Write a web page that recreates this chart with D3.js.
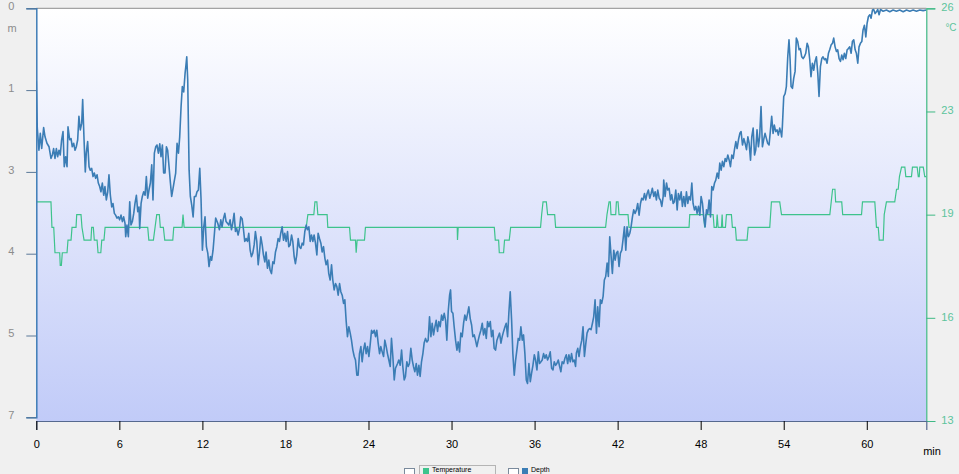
<!DOCTYPE html>
<html><head><meta charset="utf-8">
<script src="https://cdn.jsdelivr.net/npm/d3@7"></script>
<style>html,body{margin:0;padding:0;background:#f0f0f0;overflow:hidden}svg{display:block}</style>
</head><body><svg id="c" width="959" height="474"></svg>
<script>
// ---- data ----
const xTicks = [0, 6, 12, 18, 24, 30, 36, 42, 48, 54, 60];
const xDomain = [0, 64.3];
const depthTicks = [0, 1.4, 2.8, 4.2, 5.6, 7];
const depthTickLabels = ["0", "1", "3", "4", "5", "7"];
const tempTicks = [13, 16.25, 19.5, 22.75, 26];
const tempTickLabels = ["13", "16", "19", "23", "26"];
const legendLabels = ["Temperature", "Depth"];
// depth samples: [minutes, metres]
const depthSamples = [[0,1.25],[0.07,2.05],[0.19,2.43],[0.29,2.14],[0.39,2.40],[0.53,2.04],[0.63,2.20],[0.77,2.31],[0.92,2.37],[1.06,2.57],[1.16,2.51],[1.25,2.40],[1.35,2.57],[1.45,2.40],[1.54,2.54],[1.64,2.43],[1.73,2.51],[1.83,2.25],[1.93,2.11],[2.02,2.71],[2.12,2.54],[2.22,2.71],[2.29,2.03],[2.41,2.25],[2.51,2.23],[2.60,2.37],[2.70,2.31],[2.80,2.43],[2.89,2.37],[2.99,2.25],[3.08,1.85],[3.18,2.08],[3.28,1.97],[3.35,1.56],[3.45,2.25],[3.54,2.80],[3.61,2.48],[3.71,2.28],[3.81,2.71],[3.90,2.77],[4.00,2.74],[4.10,2.88],[4.19,2.82],[4.29,2.91],[4.39,2.85],[4.48,2.99],[4.58,3.05],[4.67,3.14],[4.77,2.99],[4.87,3.20],[4.96,3.05],[5.06,3.28],[5.16,3.14],[5.25,2.85],[5.35,3.20],[5.45,3.40],[5.54,3.34],[5.64,3.51],[5.73,3.54],[5.83,3.59],[5.93,3.57],[6.02,3.62],[6.12,3.54],[6.22,3.65],[6.31,3.57],[6.41,3.68],[6.46,3.91],[6.55,3.71],[6.65,3.91],[6.75,3.31],[6.84,3.71],[6.94,3.65],[7.04,3.51],[7.13,3.34],[7.23,3.20],[7.33,3.48],[7.42,3.40],[7.47,3.77],[7.57,3.34],[7.66,3.22],[7.76,3.14],[7.86,3.20],[7.95,2.88],[8.05,3.25],[8.14,3.11],[8.24,2.99],[8.34,2.68],[8.43,3.28],[8.53,2.48],[8.63,2.37],[8.72,2.34],[8.82,2.48],[8.92,2.32],[9.01,2.54],[9.11,2.34],[9.20,2.82],[9.30,2.82],[9.40,2.37],[9.49,2.43],[9.59,2.71],[9.69,2.99],[9.78,3.22],[9.88,3.08],[9.98,2.94],[10.07,2.82],[10.17,2.31],[10.27,2.48],[10.36,2.20],[10.46,1.68],[10.55,1.34],[10.65,1.43],[10.75,1.11],[10.80,1.00],[10.87,0.83],[10.94,1.23],[11.04,2.77],[11.13,3.22],[11.23,3.37],[11.33,3.57],[11.42,3.22],[11.52,3.22],[11.61,3.14],[11.71,3.11],[11.81,2.74],[11.90,3.25],[12.00,4.14],[12.10,3.74],[12.19,3.57],[12.29,4.08],[12.39,4.19],[12.48,4.42],[12.58,4.25],[12.67,4.31],[12.77,4.14],[12.87,3.85],[12.96,3.59],
[13.11,3.68],[13.23,3.79],[13.33,3.62],[13.42,3.74],[13.52,3.60],[13.62,3.51],[13.71,3.65],[13.81,3.68],[13.91,3.71],[14.00,3.62],[14.10,3.79],[14.19,3.68],[14.29,3.51],[14.39,3.82],[14.48,3.77],[14.58,3.88],[14.68,3.77],[14.77,3.57],[14.87,3.60],[14.97,3.79],[15.06,3.99],[15.16,3.94],[15.26,3.99],[15.35,3.85],[15.45,4.14],[15.54,4.25],[15.64,4.19],[15.74,4.05],[15.83,3.82],[15.93,3.99],[16.03,4.39],[16.12,4.19],[16.22,3.91],[16.32,4.05],[16.41,4.22],[16.51,4.34],[16.60,4.17],[16.70,4.45],[16.80,4.31],[16.89,4.48],[16.99,4.54],[17.09,4.34],[17.18,4.37],[17.28,4.17],[17.38,4.08],[17.47,3.94],[17.57,3.99],[17.66,3.85],[17.76,3.74],[17.86,3.97],[17.95,3.85],[18.05,3.99],[18.15,3.82],[18.24,4.08],[18.34,4.05],[18.44,3.88],[18.53,3.99],[18.63,4.25],[18.72,4.37],[18.82,4.22],[18.92,3.94],[19.01,4.08],[19.11,4.11],[19.21,4.02],[19.30,4.05],[19.40,3.82],[19.50,3.71],[19.59,3.79],[19.69,3.74],[19.79,3.99],[19.88,3.88],[19.98,3.99],[20.07,3.88],[20.17,4.02],[20.27,4.22],[20.36,3.85],[20.46,3.94],[20.56,4.02],[20.65,4.17],[20.75,4.08],[20.85,4.28],[20.94,4.39],[21.04,4.31],[21.13,4.54],[21.23,4.65],[21.33,4.39],[21.42,4.65],[21.52,4.82],[21.62,4.71],[21.71,4.76],[21.81,4.91],[21.91,4.71],[22.00,4.85],[22.10,4.91],[22.20,5.05],[22.29,4.99],[22.39,5.36],[22.48,5.62],[22.58,5.45],[22.68,5.56],[22.77,5.68],[22.87,5.85],[22.97,5.96],[23.06,6.02],[23.16,6.28],[23.25,6.28],[23.35,5.91],[23.45,5.79],[23.54,6.05],[23.64,5.85],[23.74,5.73],[23.83,5.91],[23.93,5.79],[24.03,5.96],[24.12,5.76],[24.22,5.51],[24.31,5.56],[24.41,5.51],[24.51,5.62],[24.60,5.51],[24.70,5.73],[24.80,5.91],[24.89,5.79],[24.99,5.88],[25.09,5.96],[25.18,5.68],[25.28,5.79],[25.37,5.91],[25.47,6.02],[25.57,6.13],[25.66,5.65],[25.76,5.96],[25.86,6.36],[25.95,6.16],
[26.10,6.08],[26.19,6.02],[26.29,6.11],[26.39,5.85],[26.48,6.13],[26.58,6.36],[26.67,6.30],[26.77,6.05],[26.87,6.13],[26.96,6.08],[27.06,5.82],[27.16,6.02],[27.25,6.13],[27.35,6.22],[27.45,6.08],[27.54,6.28],[27.64,6.11],[27.73,6.30],[27.83,6.05],[27.93,5.91],[28.02,5.73],[28.12,5.65],[28.22,5.71],[28.31,5.68],[28.41,5.28],[28.51,5.62],[28.60,5.39],[28.70,5.59],[28.80,5.45],[28.89,5.34],[28.99,5.53],[29.08,5.36],[29.18,5.45],[29.28,5.25],[29.37,5.34],[29.47,5.22],[29.57,5.34],[29.66,5.68],[29.76,5.19],[29.86,4.91],[29.93,4.82],[30.00,5.19],[30.10,5.22],[30.19,5.45],[30.29,5.68],[30.39,5.85],[30.48,5.71],[30.58,5.88],[30.67,5.56],[30.77,5.62],[30.87,5.39],[30.96,5.25],[31.06,5.34],[31.16,5.22],[31.25,5.11],[31.35,5.31],[31.45,5.42],[31.54,5.62],[31.64,5.59],[31.73,5.68],[31.83,5.79],[31.93,5.68],[32.02,5.59],[32.12,5.51],[32.22,5.39],[32.31,5.59],[32.41,5.48],[32.51,5.65],[32.60,5.36],[32.70,5.45],[32.80,5.36],[32.89,5.62],[32.99,5.51],[33.08,5.82],[33.18,5.85],[33.28,5.68],[33.37,5.62],[33.47,5.56],[33.57,5.73],[33.66,5.62],[33.76,5.53],[33.86,5.45],[33.95,5.39],[34.05,5.62],[34.14,5.22],[34.24,4.85],[34.34,5.34],[34.43,5.91],[34.53,6.28],[34.63,6.02],[34.72,5.85],[34.82,5.65],[34.92,5.68],[35.01,5.45],[35.11,5.68],[35.20,5.59],[35.30,5.91],[35.40,6.36],[35.49,6.42],[35.59,6.08],[35.69,6.39],[35.78,6.25],[35.88,6.11],[35.98,5.93],[36.07,6.02],[36.17,6.19],[36.27,5.88],[36.36,6.08],[36.46,6.05],[36.55,6.02],[36.65,5.91],[36.75,5.99],[36.84,5.93],[36.94,6.02],[37.04,5.96],[37.13,5.88],[37.23,6.16],[37.33,6.19],[37.42,6.05],[37.52,6.11],[37.61,6.08],[37.71,6.02],[37.81,6.13],[37.90,6.22],[37.99,6.05],[38.10,6.08],[38.19,5.99],[38.29,5.93],[38.39,6.08],[38.48,5.93],[38.58,6.05],[38.67,5.91],[38.77,6.05],[38.87,6.02],[38.96,6.13],
[39.02,5.90],[39.12,5.82],[39.21,5.96],[39.31,5.79],[39.41,5.68],[39.50,5.45],[39.60,5.96],[39.69,5.76],[39.79,5.56],[39.89,5.50],[39.98,5.48],[40.08,5.50],[40.18,5.39],[40.27,5.28],[40.37,4.99],[40.47,5.56],[40.56,5.11],[40.66,5.45],[40.75,4.99],[40.85,5.05],[40.95,4.93],[41.04,4.65],[41.14,4.59],[41.24,4.36],[41.33,4.59],[41.43,3.91],[41.53,4.25],[41.62,4.54],[41.72,4.14],[41.82,4.31],[41.91,4.19],[42.01,4.16],[42.10,4.42],[42.20,4.19],[42.30,4.14],[42.39,3.96],[42.49,3.74],[42.59,4.14],[42.68,3.74],[42.78,3.91],[42.88,3.85],[42.97,3.74],[43.07,3.57],[43.16,3.45],[43.26,3.51],[43.36,3.45],[43.45,3.34],[43.55,3.54],[43.65,3.34],[43.74,3.25],[43.84,3.28],[43.94,3.17],[44.03,3.28],[44.13,3.17],[44.22,3.11],[44.32,3.25],[44.42,3.17],[44.51,3.08],[44.61,3.22],[44.71,3.14],[44.80,3.28],[44.90,3.11],[45.00,3.25],[45.09,3.28],[45.19,3.39],[45.29,3.22],[45.33,2.94],[45.43,3.22],[45.53,2.99],[45.62,3.11],[45.72,3.08],[45.82,3.28],[45.91,3.19],[46.01,3.34],[46.10,3.31],[46.20,3.11],[46.30,3.45],[46.39,3.17],[46.49,3.28],[46.59,3.14],[46.68,3.39],[46.78,3.22],[46.88,3.39],[46.97,3.14],[47.07,3.34],[47.16,3.22],[47.26,3.28],[47.36,2.99],[47.45,3.34],[47.55,3.45],[47.65,3.39],[47.74,3.51],[47.84,3.39],[47.94,3.54],[48.03,3.22],[48.13,3.34],[48.22,3.57],[48.32,3.74],[48.42,3.45],[48.51,3.51],[48.61,3.28],[48.71,3.57],[48.80,3.05],[48.90,3.11],[49.00,2.99],[49.09,2.94],[49.19,2.82],[49.29,2.91],[49.38,2.65],[49.48,2.77],[49.57,2.62],[49.67,2.71],[49.77,2.57],[49.86,2.62],[49.96,2.51],[50.06,2.60],[50.15,2.71],[50.25,2.51],[50.35,2.57],[50.44,2.42],[50.54,2.28],[50.63,2.40],[50.73,2.25],[50.83,2.14],[50.92,2.11],[51.02,2.34],[51.12,2.23],[51.21,2.31],[51.31,2.42],[51.41,2.20],[51.50,2.31],[51.60,2.60],[51.69,2.20],[51.79,2.05],[51.89,2.51],[51.98,2.42],
[52.07,2.08],[52.17,2.37],[52.26,2.20],[52.36,1.68],[52.46,2.37],[52.55,2.25],[52.65,2.14],[52.75,2.23],[52.84,2.31],[52.94,2.34],[53.03,2.11],[53.13,1.85],[53.23,2.14],[53.32,2.00],[53.42,2.11],[53.52,2.08],[53.61,2.17],[53.71,2.05],[53.81,2.14],[53.85,2.20],[53.90,2.03],[54.00,1.51],[54.10,1.46],[54.19,1.34],[54.29,0.83],[54.38,0.54],[54.46,0.88],[54.53,1.34],[54.63,1.37],[54.72,1.20],[54.82,1.08],[54.91,0.51],[55.01,0.57],[55.11,0.71],[55.20,0.69],[55.30,0.83],[55.40,0.86],[55.49,0.83],[55.59,0.77],[55.69,0.60],[55.78,0.66],[55.88,0.88],[55.97,1.17],[56.07,0.94],[56.17,1.06],[56.26,0.91],[56.36,0.83],[56.46,1.11],[56.55,1.51],[56.65,1.00],[56.75,0.86],[56.84,0.83],[56.94,0.88],[57.03,0.86],[57.13,0.94],[57.23,0.77],[57.32,0.71],[57.42,0.63],[57.52,0.60],[57.61,0.51],[57.71,0.66],[57.81,0.74],[57.90,0.71],[58.00,0.86],[58.10,0.91],[58.19,0.80],[58.29,0.88],[58.38,0.77],[58.48,0.86],[58.58,0.71],[58.67,0.69],[58.77,0.66],[58.87,0.77],[58.96,0.57],[59.06,0.54],[59.16,0.71],[59.25,0.77],[59.35,0.94],[59.44,0.66],[59.54,0.60],[59.64,0.57],[59.73,0.37],[59.83,0.29],[59.93,0.49],[60.02,0.26],[60.12,0.14],[60.22,0.11],[60.31,0.17],[60.41,0.03],[60.50,0.02],[60.60,0.09],[60.70,0.06],[60.79,0.02],[60.89,0.11],[60.99,0.02],[61.18,0.05],[61.42,0.03],[61.66,0.06],[61.90,0.03],[62.14,0.05],[62.38,0.03],[62.63,0.06],[62.87,0.03],[63.11,0.05],[63.35,0.03],[63.59,0.05],[63.83,0.03],[64.07,0.04],[64.31,0.03]];
// temperature samples: [minutes, °C]
const tempSamples = [[0,19.9],[1.06,19.9],[1.13,19.1],[1.26,19.1],[1.35,18.3],[1.69,18.3],[1.73,17.9],[1.81,17.9],[1.88,18.3],[2.22,18.3],[2.29,18.7],[2.51,18.7],[2.58,19.1],[2.87,19.1],[2.92,19.5],[3.23,19.5],[3.30,19.1],[3.45,18.7],[3.95,18.7],[4.00,19.1],[4.12,19.1],[4.19,18.7],[4.39,18.7],[4.46,18.3],[4.66,18.3],[4.73,18.7],[4.89,18.7],[4.97,19.1],[8.05,19.1],[8.13,18.7],[8.46,18.7],[8.58,19.1],[8.70,19.5],[8.89,19.5],[8.96,19.1],[9.18,19.1],[9.28,18.7],[9.86,18.7],[9.93,19.1],[10.53,19.1],[10.60,19.5],[10.68,19.1],[19.50,19.1],[19.62,19.5],[20.05,19.5],[20.13,19.9],[20.27,19.9],[20.34,19.5],[21.01,19.5],[21.06,19.1],[22.63,19.1],[22.70,18.7],[23.06,18.7],[23.11,18.3],[23.18,18.7],[23.71,18.7],[23.78,19.1],[30.41,19.1],[30.43,18.7],[30.48,19.1],[33.09,19.1],[33.16,18.7],[33.40,18.7],[33.45,18.3],[33.76,18.3],[33.83,18.7],[34.17,18.7],[34.27,19.1],[36.43,19.1],[36.51,19.5],[36.61,19.9],[36.85,19.9],[36.94,19.5],[37.45,19.5],[37.52,19.1],[41.13,19.1],[41.23,19.5],[41.38,19.9],[41.47,19.9],[41.52,19.5],[41.86,19.5],[41.91,19.9],[42.03,19.9],[42.10,19.5],[42.75,19.5],[42.82,19.1],[47.16,19.1],[47.21,19.5],[48.20,19.5],[48.29,19.1],[48.36,19.5],[48.90,19.5],[48.97,19.1],[49.14,19.1],[49.19,19.5],[49.26,19.1],[49.50,19.1],[49.55,19.5],[49.59,19.1],[49.79,19.1],[49.86,19.5],[50.22,19.5],[50.29,19.1],[50.51,19.1],[50.58,18.7],[51.35,18.7],[51.43,19.1],[52.99,19.1],[53.11,19.9],[53.71,19.9],[53.84,19.5],[57.33,19.5],[57.43,19.9],[57.53,20.3],[57.70,20.3],[57.75,19.9],[58.19,19.9],[58.26,19.5],[59.62,19.5],[59.69,19.9],[60.58,19.9],[60.70,19.1],[60.83,19.1],[60.90,18.7],[61.19,18.7],[61.26,19.5],[61.42,19.9],[62.02,19.9],[62.15,20.3],[62.27,20.3],[62.36,20.7],[62.51,21.0],[62.75,21.0],[62.82,20.7],[63.23,20.7],[63.30,21.0],[63.64,21.0],[63.72,20.7],[63.79,20.7],[63.83,21.0],[64.08,21.0],[64.19,20.7],[64.32,20.7]];

// ---- layout ----
const L = 36.3, R = 926.3, T = 8.3, B = 421;
const svg = d3.select("#c");
const font = "'Liberation Sans', Arial, sans-serif";

const x = d3.scaleLinear().domain(xDomain).range([L, R]);
const yD = d3.scaleLinear().domain([0, 7]).range([T, 417.3]);
const yT = d3.scaleLinear().domain([13, 26]).range([B, T]);

const defs = svg.append("defs");
const grad = defs.append("linearGradient").attr("id", "bg").attr("x1", 0).attr("y1", 0).attr("x2", 0).attr("y2", 1);
grad.append("stop").attr("offset", "0%").attr("stop-color", "#ffffff");
grad.append("stop").attr("offset", "100%").attr("stop-color", "#c1cbf8");
defs.append("clipPath").attr("id", "clip").append("rect")
  .attr("x", L).attr("y", T - 1).attr("width", R - L).attr("height", B - T + 1);

svg.append("rect").attr("x", L).attr("y", T).attr("width", R - L).attr("height", B - T).attr("fill", "url(#bg)");
// top border
svg.append("line").attr("x1", L).attr("x2", R).attr("y1", T).attr("y2", T).attr("stroke", "#8e8e8e").attr("stroke-width", 1);

// lines
const g = svg.append("g").attr("clip-path", "url(#clip)");
g.append("path").datum(tempSamples)
  .attr("d", d3.line().x(d => x(d[0])).y(d => yT(d[1])))
  .attr("fill", "none").attr("stroke", "#3ec38c").attr("stroke-width", 1.2);
g.append("path").datum(depthSamples)
  .attr("d", d3.line().x(d => x(d[0])).y(d => yD(d[1])))
  .attr("fill", "none").attr("stroke", "#3b7db5").attr("stroke-width", 1.6).attr("stroke-linejoin", "round");

// left axis
const axL = d3.axisLeft(yD).tickValues(depthTicks).tickFormat((d, i) => depthTickLabels[i]).tickSize(10).tickPadding(14);
const gl = svg.append("g").attr("transform", `translate(${L},0)`).call(axL);
gl.select(".domain").attr("stroke", "#3f7db6").attr("stroke-width", 1.5);
gl.selectAll(".tick line").attr("stroke", "#5a7898");
gl.selectAll(".tick text").attr("fill", "#8c8c8c").attr("font-family", font).attr("font-size", 11)
  .attr("text-anchor", "middle").attr("x", -25).attr("dy", "0.1em");
svg.append("text").attr("x", 12).attr("y", 32).attr("text-anchor", "middle").attr("fill", "#8c8c8c")
  .attr("font-family", font).attr("font-size", 11).text("m");

// right axis
const axR = d3.axisRight(yT).tickValues(tempTicks).tickFormat((d, i) => tempTickLabels[i]).tickSize(9).tickPadding(6);
const gr = svg.append("g").attr("transform", `translate(${R},0)`).call(axR);
gr.select(".domain").attr("stroke", "#3fb985").attr("stroke-width", 1.2);
gr.selectAll(".tick line").attr("stroke", "#3fb985");
gr.selectAll(".tick text").attr("fill", "#5cc49c").attr("font-family", font).attr("font-size", 11).attr("dy", "0.2em");
svg.append("text").attr("x", 951).attr("y", 31).attr("text-anchor", "middle").attr("fill", "#5cc49c")
  .attr("font-family", font).attr("font-size", 10).text("°C");

// bottom axis
const axB = d3.axisBottom(x).tickValues(xTicks).tickSize(9).tickPadding(10).tickFormat(d3.format("d"));
const gb = svg.append("g").attr("transform", `translate(0,${B})`).call(axB);
gb.select(".domain").attr("stroke", "#56698f").attr("stroke-width", 1.2);
gb.selectAll(".tick line").attr("stroke", "#000");
gb.selectAll(".tick text").attr("fill", "#000").attr("font-family", font).attr("font-size", 11);
svg.append("text").attr("x", 932).attr("y", 455).attr("text-anchor", "middle").attr("fill", "#000")
  .attr("font-family", font).attr("font-size", 11).text("min");

// legend (at the bottom edge)
const lg = svg.append("g");
lg.append("rect").attr("x", 404.5).attr("y", 468.5).attr("width", 10).attr("height", 10).attr("fill", "#fff").attr("stroke", "#7a8a9c");
lg.append("rect").attr("x", 419.5).attr("y", 465.5).attr("width", 76).attr("height", 12).attr("fill", "none").attr("stroke", "#b4b4b4");
lg.append("rect").attr("x", 423).attr("y", 468).attr("width", 6).attr("height", 6).attr("fill", "#3ec38c");
lg.append("text").attr("x", 432).attr("y", 471.5).attr("fill", "#000").attr("font-family", font).attr("font-size", 7).text(legendLabels[0]);
lg.append("rect").attr("x", 508.5).attr("y", 468.5).attr("width", 10).attr("height", 10).attr("fill", "#fff").attr("stroke", "#7a8a9c");
lg.append("rect").attr("x", 522).attr("y", 468).attr("width", 6).attr("height", 6).attr("fill", "#3b7db5");
lg.append("text").attr("x", 531).attr("y", 471.5).attr("fill", "#000").attr("font-family", font).attr("font-size", 7).text(legendLabels[1]);
</script></body></html>
